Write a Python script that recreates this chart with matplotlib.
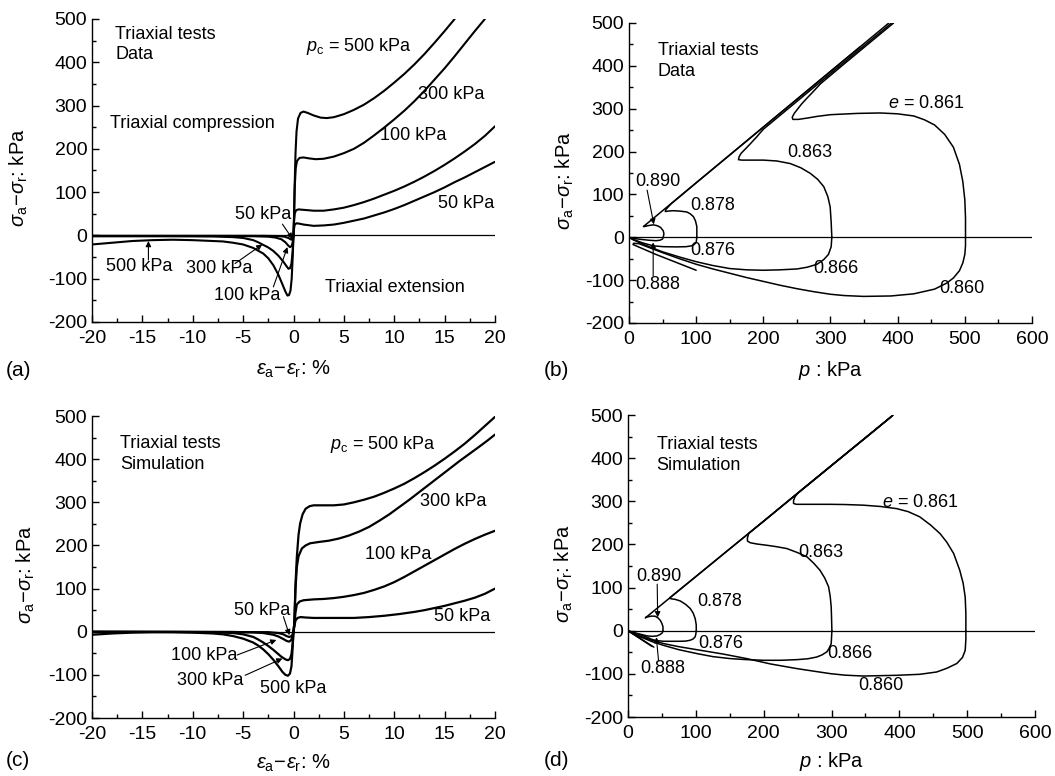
import numpy as np
import matplotlib.pyplot as plt
from matplotlib.ticker import MultipleLocator

plt.rcParams['font.family'] = ['Liberation Sans', 'DejaVu Sans']
plt.rcParams['mathtext.fontset'] = 'custom'
plt.rcParams['mathtext.rm'] = 'Liberation Sans'
plt.rcParams['mathtext.it'] = 'Liberation Sans:italic'
plt.rcParams['mathtext.bf'] = 'Liberation Sans:bold'
plt.rcParams['axes.unicode_minus'] = False

# ---- (a) triaxial data: deviator stress vs axial-radial strain ----
a_comp_500 = [(0, 0), (0.05, 40), (0.12, 120), (0.2, 190), (0.3, 240), (0.45, 270), (0.7, 283), (1.0, 286),
              (1.4, 283), (2.0, 277), (2.7, 272), (3.3, 271), (4, 273), (5, 280), (6, 290), (7, 302), (8, 317),
              (9, 334), (10, 353), (11, 373), (12, 395), (13, 419), (14, 445), (15, 472), (16, 500)]
a_comp_300 = [(0, 0), (0.05, 40), (0.12, 110), (0.22, 155), (0.35, 172), (0.6, 179), (1.0, 180), (1.5, 178),
              (2.2, 176), (3, 177), (4, 182), (5, 190), (6, 200), (7, 214), (8, 231), (9, 249), (10, 268),
              (11, 288), (12, 310), (13, 334), (14, 360), (15, 386), (16, 414), (17, 443), (18, 472), (19, 500)]
a_comp_100 = [(0, 0), (0.05, 30), (0.12, 50), (0.25, 58), (0.5, 60), (1, 59), (2, 57), (3, 57), (4, 60), (5, 64),
              (6, 70), (7, 77), (8, 85), (9, 94), (10, 103), (11, 113), (12, 124), (13, 136), (14, 149),
              (15, 163), (16, 178), (17, 194), (18, 211), (19, 230), (20, 252)]
a_comp_50 = [(0, 0), (0.05, 15), (0.12, 25), (0.3, 28), (0.6, 27), (1, 25), (2, 22), (3, 23), (4, 25), (5, 29),
             (6, 34), (7, 39), (8, 46), (9, 53), (10, 61), (11, 70), (12, 80), (13, 90), (14, 100), (15, 111),
             (16, 123), (17, 134), (18, 146), (19, 158), (20, 170)]
a_ext_500 = [(0, 0), (-0.08, -50), (-0.18, -100), (-0.3, -128), (-0.45, -138), (-0.6, -139), (-0.8, -130),
             (-1.1, -113), (-1.5, -91), (-2, -69), (-2.5, -53), (-3, -42), (-4, -29), (-5, -21), (-6, -17),
             (-7, -14), (-8, -13), (-10, -11), (-12, -10), (-14, -11), (-16, -13), (-18, -17), (-20, -21)]
a_ext_300 = [(0, 0), (-0.08, -35), (-0.2, -65), (-0.35, -76), (-0.5, -77), (-0.7, -71), (-1, -61), (-1.5, -47),
             (-2, -36), (-2.5, -28), (-3, -22), (-3.5, -16), (-4, -11), (-5, -6), (-6, -4), (-8, -2.5),
             (-12, -2), (-16, -2), (-20, -2)]
a_ext_100 = [(0, 0), (-0.08, -16), (-0.2, -25), (-0.35, -27), (-0.5, -24), (-0.8, -16), (-1.2, -9), (-1.8, -5),
             (-2.5, -3), (-4, -2), (-8, -1.5), (-20, -1.5)]
a_ext_50 = [(0, 0), (-0.08, -7), (-0.18, -10), (-0.3, -9), (-0.5, -6), (-0.9, -3), (-1.5, -1.5), (-3, -1),
            (-20, -1)]

# ---- (c) simulation: deviator stress vs strain ----
c_comp_500 = [(0, 0), (0.08, 20), (0.2, 110), (0.33, 173), (0.5, 225), (0.66, 251), (0.9, 272), (1.2, 285),
              (1.6, 291), (2, 293), (3, 293), (4, 293), (5, 295), (6, 300), (7, 306), (8, 313), (9, 322),
              (10, 332), (11, 343), (12, 356), (13, 370), (14, 385), (15, 401), (16, 418), (17, 436),
              (18, 456), (19, 477), (20, 498)]
c_comp_300 = [(0, 0), (0.08, 20), (0.2, 100), (0.33, 150), (0.5, 175), (0.83, 193), (1.2, 200), (1.65, 205),
              (2.5, 208), (3.5, 211), (4.5, 216), (5.5, 223), (6.5, 232), (7.5, 243), (8.5, 257), (9.5, 272),
              (10.5, 289), (11.5, 306), (12.5, 324), (13.5, 342), (14.5, 360), (15.5, 378), (16.5, 396),
              (17.5, 413), (18.5, 430), (19.3, 444), (20, 457)]
c_comp_100 = [(0, 0), (0.08, 15), (0.2, 45), (0.33, 63), (0.6, 70), (1, 73), (2, 75), (3, 76), (4, 78), (5, 81),
              (6, 85), (7, 90), (8, 97), (9, 105), (10, 115), (11, 127), (12, 140), (13, 153), (14, 166),
              (15, 179), (16, 192), (17, 204), (18, 215), (19, 225), (20, 234)]
c_comp_50 = [(0, 0), (0.08, 12), (0.2, 26), (0.4, 32), (0.7, 34), (1.2, 33), (2, 32), (4, 32), (6, 32),
             (7.5, 34), (9, 37), (10.5, 41), (12, 46), (13, 50), (14, 55), (15, 60), (16, 66), (17, 72),
             (18, 79), (19, 88), (20, 100)]
c_ext_500 = [(0, 0), (-0.08, -35), (-0.2, -80), (-0.35, -97), (-0.55, -102), (-0.8, -100), (-1.1, -93),
             (-1.5, -80), (-2, -65), (-2.5, -52), (-3, -41), (-3.5, -32), (-4, -25), (-5, -16), (-6, -10),
             (-7, -6), (-8, -4), (-10, -2), (-12, -1), (-14, -1), (-16, -2), (-18, -4), (-20, -7)]
c_ext_300 = [(0, 0), (-0.08, -25), (-0.2, -52), (-0.35, -63), (-0.55, -66), (-0.8, -64), (-1.2, -58),
             (-1.6, -50), (-2, -42), (-2.5, -33), (-3, -25), (-3.5, -18), (-4, -12), (-5, -6), (-6, -3),
             (-8, -1), (-12, -0.5), (-20, -0.5)]
c_ext_100 = [(0, 0), (-0.1, -12), (-0.25, -20), (-0.45, -23), (-0.7, -21), (-1, -17), (-1.5, -11), (-2, -7),
             (-3, -3), (-4, -1.5), (-6, -0.5), (-20, 0)]
c_ext_50 = [(0, 0), (-0.1, -7), (-0.25, -11), (-0.45, -12), (-0.7, -10), (-1, -6), (-1.5, -3), (-2.5, -1),
            (-20, 0)]

# ---- (b) triaxial data: stress paths p vs q ----
b_e0861 = [(501, 0), (501, 45), (500, 87), (497, 130), (492, 170), (483, 210), (470, 240), (455, 262),
           (440, 274), (424, 283), (400, 288), (374, 290), (340, 289), (300, 286), (280, 282), (265, 278),
           (252, 275), (244, 275), (243, 280), (246, 289), (251, 299), (257, 311), (264, 323), (272, 336),
           (285, 358), (320, 404), (360, 456), (394, 500)]
b_e0863 = [(302, 0), (301, 35), (299.5, 71), (296, 95), (290, 118), (281, 135), (270, 149), (256, 162),
           (240, 172), (220, 178), (200, 180), (180, 180), (168, 180), (163, 181), (164, 188), (167, 196),
           (172, 204), (180, 217), (190, 234), (200, 252), (250, 317), (300, 382), (350, 447), (391, 500)]
b_e0878 = [(101, 0), (101, 25), (99, 38), (96, 48), (91, 55), (86, 59), (76, 61), (66, 62), (58, 61),
           (54, 60), (55, 65), (58, 70), (62, 77), (100, 127), (150, 192), (200, 257), (250, 322),
           (300, 387), (344, 444)]
b_e0890 = [(51, 0), (52, 8), (51, 15), (47, 23), (42, 27), (36, 29), (28, 27), (23, 25), (21.5, 25),
           (30, 36), (100, 127), (200, 257), (300, 387), (387, 500)]
b_e0860 = [(501, 0), (501, -20), (500, -40), (497, -60), (492, -78), (483, -95), (473, -107), (455, -121),
           (424, -132), (390, -137), (349, -138), (320, -136), (300, -133), (275, -127), (250, -120),
           (225, -112), (200, -103), (175, -94), (150, -84), (125, -74), (100, -63), (75, -50), (50, -36),
           (30, -24), (15, -15), (7, -14), (6, -17), (40, -40), (100, -77)]
b_e0866 = [(302, 0), (301, -22), (297, -40), (290, -52), (280, -63), (265, -70), (250, -74), (225, -76),
           (200, -77), (175, -76), (150, -73), (125, -66), (100, -57), (75, -46), (50, -34), (30, -22),
           (15, -12), (5, -5), (1, -1)]
b_e0876 = [(101, 0), (100, -12), (97, -17), (93, -20), (85, -22), (70, -22.5), (51, -22), (36, -20),
           (20, -13), (8, -6), (2, -2)]
b_e0888 = [(51, 0), (50, -4), (46, -7), (40, -8), (30, -7), (18, -5), (8, -3), (2, -1)]

# ---- (d) simulation: stress paths p vs q ----
d_e0861 = [(498, 0), (498, 40), (497, 78), (494, 110), (489, 140), (480, 179), (470, 205), (460, 225),
           (446, 245), (430, 264), (413, 276), (396, 283), (372, 288), (347, 291), (320, 292.5), (298, 293),
           (270, 293), (255, 293), (248, 293), (244, 295), (244, 302), (246, 310), (250, 318.5), (300, 383),
           (350, 447.5), (391, 500)]
d_e0863 = [(300.5, 0), (300, 30), (299.5, 55), (298, 80), (295.6, 102), (290, 122), (283, 140), (274, 156),
           (264, 171), (250, 181), (234, 190.5), (218, 195), (205, 198), (190, 201), (180, 204), (176, 208),
           (176, 215), (178, 226), (200, 254), (250, 319), (300, 383), (350, 447), (390, 499)]
d_e0878 = [(100.6, 0), (100.5, 14), (99, 28), (96, 41), (91.7, 51.5), (85, 61), (77, 69), (70, 72.5),
           (64, 74), (61.3, 75), (62, 77), (100, 125.6), (150, 190), (200, 254), (250, 318.6), (300, 383),
           (350, 447), (389, 497.5)]
d_e0890 = [(51.5, 0), (51.5, 9), (50, 16.6), (47.6, 24), (44, 30), (40, 33.6), (35, 34), (30, 32.5),
           (27, 32), (25.5, 29.7), (30, 35.5), (100, 125.6), (200, 254), (300, 383), (388, 496)]
d_e0860 = [(498, 0), (498, -20), (497, -45.6), (493, -62), (484.6, -76), (470, -87), (455, -95.6),
           (430, -101), (396, -103.3), (347, -105), (320, -103), (298, -99.4), (275, -94), (249, -87.8),
           (210, -77), (175, -64.6), (140, -54), (101.6, -44), (75, -37), (52.5, -29.8), (35, -22), (18, -13),
           (8, -6), (1, -1), (38, -38)]
d_e0866 = [(300.5, 0), (300, -15), (299.5, -30), (296, -42), (293, -49), (286, -56), (278, -61), (265, -65),
           (249, -67), (225, -68.5), (200, -68.5), (175, -67), (150.7, -64.6), (125, -60), (101.6, -53),
           (75, -44), (52.5, -34), (35, -25), (18, -14), (8, -7), (1, -1), (35, -36)]
d_e0876 = [(100.6, 0), (100, -7), (99, -14), (96, -19), (91.7, -22), (85, -24), (77, -24.4), (62, -24.5),
           (52.5, -24.4), (42, -23), (35, -20), (28, -15), (15, -8), (5, -3), (1, -0.5)]
d_e0888 = [(51.5, 0), (50.5, -5), (47, -9), (42.7, -12), (36, -13), (28, -12), (18, -8), (8, -4), (1, -0.5)]

FS = 13
FS_TICK = 14
FS_LAB = 14.5
ylab = r'$\sigma_\mathrm{a}\!-\!\sigma_\mathrm{r}$: kPa'
xlab_strain = r'$\varepsilon_\mathrm{a}\!-\!\varepsilon_\mathrm{r}$: %'
xlab_p = r'$p$ : kPa'


def draw(ax, pts, lw):
    xs, ys = zip(*pts)
    ax.plot(xs, ys, color='black', lw=lw, solid_joinstyle='round', solid_capstyle='round')


def setup(ax, xlim, xmaj, xmin, xlabel, xlab_y, ylab_x):
    ax.set_xlim(*xlim)
    ax.set_ylim(-200, 500)
    ax.xaxis.set_major_locator(MultipleLocator(xmaj))
    ax.xaxis.set_minor_locator(MultipleLocator(xmin))
    ax.yaxis.set_major_locator(MultipleLocator(100))
    ax.yaxis.set_minor_locator(MultipleLocator(50))
    for s in ['top', 'right']:
        ax.spines[s].set_visible(False)
    for s in ['left', 'bottom']:
        ax.spines[s].set_linewidth(1.0)
    ax.tick_params(which='major', direction='in', length=5, width=1, labelsize=FS_TICK)
    ax.tick_params(which='minor', direction='in', length=3, width=1)
    ax.tick_params(axis='x', pad=5.5)
    ax.tick_params(axis='y', pad=3.5)
    ax.axhline(0, color='black', lw=0.9)
    ax.set_xlabel(xlabel, fontsize=FS_LAB)
    ax.xaxis.label.set_va('center')
    ax.xaxis.set_label_coords(0.5, xlab_y)
    ax.set_ylabel(ylab, fontsize=FS_LAB)
    ax.yaxis.label.set_va('center')
    ax.yaxis.set_label_coords(ylab_x, 0.475)


def arrow(ax, start, tip):
    ax.annotate('', xy=tip, xytext=start,
                arrowprops=dict(arrowstyle='-|>', color='black', lw=0.8, mutation_scale=8,
                                shrinkA=0, shrinkB=0))


fig = plt.figure(figsize=(10.55, 7.76), dpi=100)
ax_a = fig.add_axes([0.0872, 0.5851, 0.3820, 0.3905])
ax_b = fig.add_axes([0.5962, 0.5838, 0.3820, 0.3866])
ax_c = fig.add_axes([0.0872, 0.0747, 0.3820, 0.3892])
ax_d = fig.add_axes([0.5953, 0.0760, 0.3858, 0.3892])

# (a)
setup(ax_a, (-20, 20), 5, 2.5, xlab_strain, -0.158, -0.181)
for curve in [a_comp_500, a_comp_300, a_comp_100, a_comp_50, a_ext_500, a_ext_300, a_ext_100, a_ext_50]:
    draw(ax_a, curve, 1.5)
ax_a.text(-17.7, 441, 'Triaxial tests\nData', fontsize=FS, va='center', linespacing=1.3)
ax_a.text(1.2, 437, r'$p_\mathrm{c}$ = 500 kPa', fontsize=FS, va='center')
ax_a.text(12.4, 325, '300 kPa', fontsize=FS, va='center')
ax_a.text(8.6, 230, '100 kPa', fontsize=FS, va='center')
ax_a.text(14.3, 74, '50 kPa', fontsize=FS, va='center')
ax_a.text(-18.2, 258, 'Triaxial compression', fontsize=FS, va='center')
ax_a.text(3.1, -120, 'Triaxial extension', fontsize=FS, va='center')
ax_a.text(-5.8, 49, '50 kPa', fontsize=FS, va='center')
arrow(ax_a, (-1.1, 26), (-0.1, -8))
ax_a.text(-18.6, -73, '500 kPa', fontsize=FS, va='center')
arrow(ax_a, (-14.4, -57), (-14.4, -13))
ax_a.text(-10.7, -77, '300 kPa', fontsize=FS, va='center')
arrow(ax_a, (-5.8, -65), (-3.1, -21))
ax_a.text(-7.9, -138, '100 kPa', fontsize=FS, va='center')
arrow(ax_a, (-2, -119), (-0.6, -27))

# (b)
setup(ax_b, (0, 600), 100, 50, xlab_p, -0.157, -0.159)
for curve in [b_e0861, b_e0863, b_e0878, b_e0890, b_e0860, b_e0866, b_e0876, b_e0888]:
    draw(ax_b, curve, 1.1)
ax_b.text(43, 411, 'Triaxial tests\nData', fontsize=FS, va='center', linespacing=1.3)
ax_b.text(386, 311, r'$e$ = 0.861', fontsize=FS, va='center')
ax_b.text(236, 198, '0.863', fontsize=FS, va='center')
ax_b.text(9, 130, '0.890', fontsize=FS, va='center')
arrow(ax_b, (27, 110), (37, 30))
ax_b.text(91, 75, '0.878', fontsize=FS, va='center')
ax_b.text(91, -32, '0.876', fontsize=FS, va='center')
ax_b.text(275, -73, '0.866', fontsize=FS, va='center')
ax_b.text(10, -110, '0.888', fontsize=FS, va='center')
arrow(ax_b, (36, -90), (36, -12))
ax_b.text(462, -120, '0.860', fontsize=FS, va='center')

# (c)
setup(ax_c, (-20, 20), 5, 2.5, xlab_strain, -0.150, -0.165)
for curve in [c_comp_500, c_comp_300, c_comp_100, c_comp_50, c_ext_500, c_ext_300, c_ext_100, c_ext_50]:
    draw(ax_c, curve, 1.6)
ax_c.text(-17.2, 411, 'Triaxial tests\nSimulation', fontsize=FS, va='center', linespacing=1.3)
ax_c.text(3.6, 433, r'$p_\mathrm{c}$ = 500 kPa', fontsize=FS, va='center')
ax_c.text(12.6, 301, '300 kPa', fontsize=FS, va='center')
ax_c.text(7.1, 178, '100 kPa', fontsize=FS, va='center')
ax_c.text(13.9, 35, '50 kPa', fontsize=FS, va='center')
ax_c.text(-5.95, 50, '50 kPa', fontsize=FS, va='center')
arrow(ax_c, (-1.0, 35), (-0.4, -8))
ax_c.text(-12.2, -54, '100 kPa', fontsize=FS, va='center')
arrow(ax_c, (-5.6, -54), (-1.7, -19))
ax_c.text(-11.6, -112, '300 kPa', fontsize=FS, va='center')
arrow(ax_c, (-4.8, -101), (-1.1, -62))
ax_c.text(-3.3, -131, '500 kPa', fontsize=FS, va='center')

# (d)
setup(ax_d, (0, 600), 100, 50, xlab_p, -0.146, -0.157)
for curve in [d_e0861, d_e0863, d_e0878, d_e0890, d_e0860, d_e0866, d_e0876, d_e0888]:
    draw(ax_d, curve, 1.1)
ax_d.text(42, 408, 'Triaxial tests\nSimulation', fontsize=FS, va='center', linespacing=1.3)
ax_d.text(374, 297, r'$e$ = 0.861', fontsize=FS, va='center')
ax_d.text(251, 181, '0.863', fontsize=FS, va='center')
ax_d.text(12, 125, '0.890', fontsize=FS, va='center')
arrow(ax_d, (43, 108), (43.7, 31))
ax_d.text(101.6, 67, '0.878', fontsize=FS, va='center')
ax_d.text(103, -30, '0.876', fontsize=FS, va='center')
ax_d.text(293, -53, '0.866', fontsize=FS, va='center')
ax_d.text(18, -88, '0.888', fontsize=FS, va='center')
arrow(ax_d, (45, -70), (41.7, -15))
ax_d.text(340, -128, '0.860', fontsize=FS, va='center')

# panel letters
fig.text(6 / 1055, 1 - 370 / 776, '(a)', fontsize=15, va='center')
fig.text(544 / 1055, 1 - 370 / 776, '(b)', fontsize=15, va='center')
fig.text(6 / 1055, 1 - 760 / 776, '(c)', fontsize=15, va='center')
fig.text(544 / 1055, 1 - 760 / 776, '(d)', fontsize=15, va='center')

fig.savefig('out.png', dpi=100)
